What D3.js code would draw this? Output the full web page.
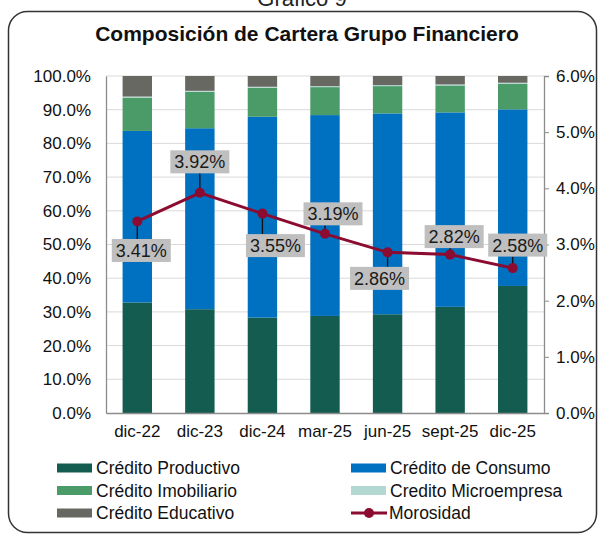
<!DOCTYPE html>
<html>
<head>
<meta charset="utf-8">
<script src="https://cdn.jsdelivr.net/npm/d3@7"></script>
<style>
  body { margin: 0; background: #fff; }
  svg { display: block; font-family: "Liberation Sans", Arial, sans-serif; }
</style>
</head>
<body>
<svg id="chart"></svg>
<script>
// data
var periods = ['dic-22', 'dic-23', 'dic-24', 'mar-25', 'jun-25', 'sept-25', 'dic-25'];
var productivo   = [32.8, 30.8, 28.3, 28.8, 29.3, 31.5, 37.7];
var consumo      = [50.9, 53.7, 59.6, 59.6, 59.6, 57.7, 52.4];
var imobiliario  = [9.9, 10.8, 8.6, 8.3, 8.1, 8.0, 7.6];
var microempresa = [0.3, 0.3, 0.3, 0.3, 0.3, 0.3, 0.3];
var educativo    = [6.1, 4.4, 3.2, 3.0, 2.7, 2.5, 2.0];
var morosidad    = [3.41, 3.92, 3.55, 3.19, 2.86, 2.82, 2.58];
var leftTicks  = [0, 10, 20, 30, 40, 50, 60, 70, 80, 90, 100];
var rightTicks = [0, 1, 2, 3, 4, 5, 6];

var seriesNames = ['Crédito Productivo', 'Crédito de Consumo', 'Crédito Imobiliario',
                   'Credito Microempresa', 'Crédito Educativo'];
var seriesColors = ['#145c4f', '#0070c0', '#4a9b68', '#b3d8d1', '#686862'];
var lineColor = '#8b0c30';

// label placement, offset from its point (px)
var labelOffset = [[4, 29], [0, -31], [13, 32], [8, -20], [-8, 26], [4, -18], [5, -23]];

var width = 601;
var height = 538;
var m = {left: 106, right: 57, top: 76, bottom: 125};

var table = periods.map((p, i) => ({
  period: p,
  s0: productivo[i], s1: consumo[i], s2: imobiliario[i], s3: microempresa[i], s4: educativo[i]
}));

var stack = d3.stack().keys(['s0', 's1', 's2', 's3', 's4']);
var stacked = stack(table);

var xScale = d3.scaleBand()
                 .domain(periods)
                 .range([m.left, width - m.right])
                 .paddingInner(0.53)
                 .paddingOuter(0.265);

var yScale = d3.scaleLinear()
                 .domain([0, 100])
                 .range([height - m.bottom, m.top]);

var y2Scale = d3.scaleLinear()
                  .domain([0, 6])
                  .range([height - m.bottom, m.top]);

var svg = d3.select('#chart')
              .attr('width', width)
              .attr('height', height);

// frame + headings
svg.append('rect')
   .attr('x', 8.5).attr('y', 11.5)
   .attr('width', 588).attr('height', 521)
   .attr('rx', 19)
   .attr('fill', 'none')
   .attr('stroke', '#333')
   .attr('stroke-width', 1.5);

svg.append('text')
   .attr('x', 302).attr('y', 6)
   .attr('text-anchor', 'middle')
   .style('font-size', '22px')
   .attr('fill', '#222')
   .text('Gráfico 9');

svg.append('text')
   .attr('x', 307).attr('y', 41)
   .attr('text-anchor', 'middle')
   .style('font-size', '21px')
   .style('font-weight', 'bold')
   .attr('fill', '#111')
   .text('Composición de Cartera Grupo Financiero');

// grid
svg.append('g')
   .selectAll('line')
   .data(leftTicks.slice(1))
   .enter()
   .append('line')
     .attr('x1', m.left).attr('x2', width - m.right)
     .attr('y1', d => yScale(d)).attr('y2', d => yScale(d))
     .attr('stroke', '#d9d9d9')
     .attr('stroke-width', 1);

// bars
svg.append('g')
   .selectAll('g')
   .data(stacked)
   .enter()
   .append('g')
     .attr('fill', (d, i) => seriesColors[i])
   .selectAll('rect')
   .data(d => d)
   .enter()
   .append('rect')
     .attr('x', d => xScale(d.data.period))
     .attr('y', d => yScale(d[1]))
     .attr('width', xScale.bandwidth())
     .attr('height', d => yScale(d[0]) - yScale(d[1]));

// axes
var leftAxis = d3.axisLeft(yScale)
                   .tickValues(leftTicks)
                   .tickSize(0)
                   .tickPadding(15)
                   .tickFormat(d => d.toFixed(1) + '%');

var rightAxis = d3.axisRight(y2Scale)
                    .tickValues(rightTicks)
                    .tickSize(5)
                    .tickPadding(7)
                    .tickFormat(d => d.toFixed(1) + '%');

var bottomAxis = d3.axisBottom(xScale)
                     .tickSize(0)
                     .tickPadding(12);

function styleAxis(g) {
  g.select('.domain').attr('stroke', '#8c8c8c').attr('stroke-width', 1.3);
  g.selectAll('.tick line').attr('stroke', '#8c8c8c');
  g.selectAll('text')
   .attr('fill', '#111')
   .style('font-size', '17px')
   .style('font-family', '"Liberation Sans", Arial, sans-serif');
}

svg.append('g')
   .attr('transform', `translate(${m.left},0)`)
   .call(leftAxis)
   .call(styleAxis);

svg.append('g')
   .attr('transform', `translate(${width - m.right},0)`)
   .call(rightAxis)
   .call(styleAxis);

svg.append('g')
   .attr('transform', `translate(0,${height - m.bottom})`)
   .call(bottomAxis)
   .call(styleAxis);

// morosidad line
var cx = (d, i) => xScale(periods[i]) + xScale.bandwidth() / 2;

var line = d3.line()
               .x(cx)
               .y(d => y2Scale(d));

svg.append('path')
   .datum(morosidad)
   .attr('d', line)
   .attr('fill', 'none')
   .attr('stroke', lineColor)
   .attr('stroke-width', 3);

// labels with leader lines
var boxW = 59, boxH = 23;
var labels = svg.append('g');

morosidad.forEach((d, i) => {
  var px = cx(d, i), py = y2Scale(d);
  var lx = px + labelOffset[i][0], ly = py + labelOffset[i][1];
  // nearest edge point of the box
  var ex = Math.max(lx - boxW / 2, Math.min(px, lx + boxW / 2));
  var ey = Math.max(ly - boxH / 2, Math.min(py, ly + boxH / 2));
  if (Math.hypot(ex - px, ey - py) > 6) {
    labels.append('line')
      .attr('x1', px).attr('y1', py)
      .attr('x2', ex).attr('y2', ey)
      .attr('stroke', '#111')
      .attr('stroke-width', 1.3);
  }
  labels.append('rect')
    .attr('x', lx - boxW / 2).attr('y', ly - boxH / 2)
    .attr('width', boxW).attr('height', boxH)
    .attr('fill', '#bfbfbf');
  labels.append('text')
    .attr('x', lx).attr('y', ly + 6.5)
    .attr('text-anchor', 'middle')
    .style('font-size', '18px')
    .attr('fill', '#1a1a1a')
    .text(d.toFixed(2) + '%');
});

svg.append('g')
   .selectAll('circle')
   .data(morosidad)
   .enter()
   .append('circle')
     .attr('cx', cx)
     .attr('cy', d => y2Scale(d))
     .attr('r', 5)
     .attr('fill', lineColor);

// legend
var legendItems = [
  {name: seriesNames[0], color: seriesColors[0]},
  {name: seriesNames[1], color: seriesColors[1]},
  {name: seriesNames[2], color: seriesColors[2]},
  {name: seriesNames[3], color: seriesColors[3]},
  {name: seriesNames[4], color: seriesColors[4]},
  {name: 'Morosidad', color: lineColor, line: true}
];

var legend = svg.append('g')
                  .selectAll('g')
                  .data(legendItems)
                  .enter()
                  .append('g')
                    .attr('transform', (d, i) => `translate(${i % 2 ? 351 : 57},${468 + Math.floor(i / 2) * 22.5})`);

legend.filter(d => !d.line)
  .append('rect')
    .attr('x', 0).attr('y', -4.5)
    .attr('width', 35).attr('height', 9)
    .attr('fill', d => d.color);

legend.filter(d => d.line)
  .append('line')
    .attr('x1', 0).attr('x2', 36)
    .attr('stroke', d => d.color)
    .attr('stroke-width', 3);

legend.filter(d => d.line)
  .append('circle')
    .attr('cx', 18).attr('r', 5)
    .attr('fill', d => d.color);

legend.append('text')
  .attr('x', d => d.line ? 38 : 39)
  .attr('y', 6)
  .style('font-size', '17.5px')
  .attr('fill', '#111')
  .text(d => d.name);
</script>
</body>
</html>
